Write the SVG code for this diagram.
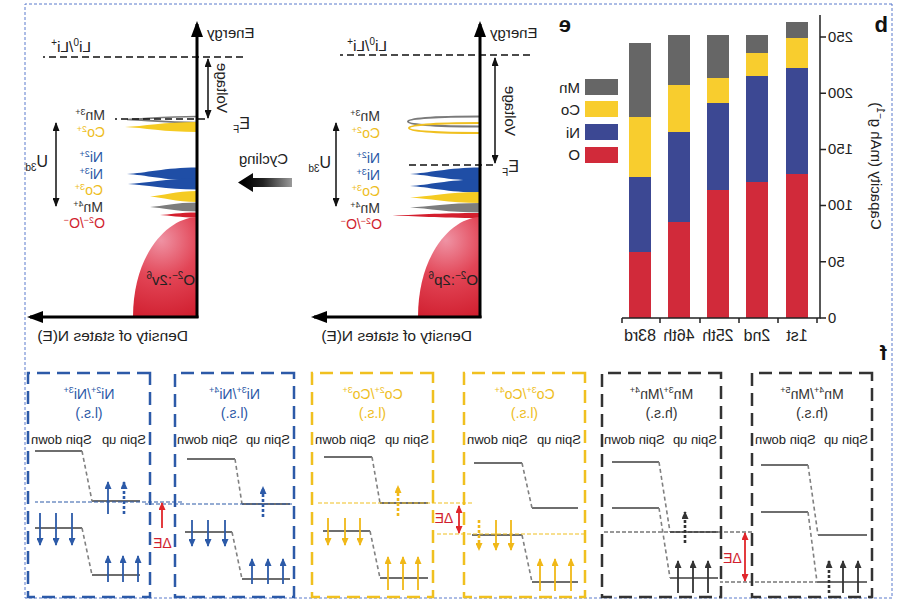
<svg xmlns="http://www.w3.org/2000/svg" width="909" height="610" viewBox="0 0 909 610">
<defs>
<style>
text{font-family:"Liberation Sans",Arial,Helvetica,sans-serif;fill:#222}
.f16{font-size:16px}.f15{font-size:15px}.f14{font-size:14px}.f13{font-size:13px}
.s10{font-size:10px}.s9{font-size:9px}
.bl{fill:#2b58a6}.yl{fill:#eebd1c}.rd{fill:#d11f2f}.dk{fill:#333}
.ax{stroke:#000;stroke-width:3;fill:none;marker-end:url(#axh)}
.dash{stroke:#111;stroke-width:1.6;stroke-dasharray:7 4;fill:none}
.dbl{stroke:#111;stroke-width:1.5;fill:none;marker-start:url(#sm);marker-end:url(#sm)}
.box{fill:none;stroke-width:2.5;stroke-dasharray:13 7}
.lvl{stroke:#6e6e6e;stroke-width:2;fill:none}
.sl{stroke:#808080;stroke-width:1.6;stroke-dasharray:4 3;fill:none}
.ef{stroke-width:1.2;stroke-dasharray:4 2;fill:none}
.ab{stroke:#2c5aa8;stroke-width:1.8;marker-end:url(#hb)}
.ay{stroke:#f0b818;stroke-width:1.8;marker-end:url(#hy)}
.ad{stroke:#333;stroke-width:1.8;marker-end:url(#hd)}
.dot{stroke-width:2.6;stroke-dasharray:3 2}
.de{stroke:#e0262b;stroke-width:1.8;fill:none}
.tick{stroke:#222;stroke-width:1.5}
</style>
<marker id="axh" markerUnits="userSpaceOnUse" markerWidth="16" markerHeight="12" refX="13" refY="6" orient="auto"><path d="M0,0 L16,6 L0,12 Z" fill="#000"/></marker>
<marker id="sm" markerUnits="userSpaceOnUse" markerWidth="9" markerHeight="7" refX="8" refY="3.5" orient="auto-start-reverse"><path d="M0,0 L9,3.5 L0,7 Z" fill="#111"/></marker>
<marker id="hb" markerUnits="userSpaceOnUse" markerWidth="8" markerHeight="7" refX="7" refY="3.5" orient="auto"><path d="M0,0 L8,3.5 L0,7 Z" fill="#2c5aa8"/></marker>
<marker id="hy" markerUnits="userSpaceOnUse" markerWidth="8" markerHeight="7" refX="7" refY="3.5" orient="auto"><path d="M0,0 L8,3.5 L0,7 Z" fill="#f0b818"/></marker>
<marker id="hd" markerUnits="userSpaceOnUse" markerWidth="8" markerHeight="7" refX="7" refY="3.5" orient="auto"><path d="M0,0 L8,3.5 L0,7 Z" fill="#333"/></marker>
<marker id="hr" markerUnits="userSpaceOnUse" markerWidth="8" markerHeight="7" refX="7" refY="3.5" orient="auto-start-reverse"><path d="M0,0 L8,3.5 L0,7 Z" fill="#e0262b"/></marker>
<radialGradient id="domeL" gradientUnits="userSpaceOnUse" cx="748" cy="240" r="85"><stop offset="0" stop-color="#ef93a4"/><stop offset="0.45" stop-color="#e24556"/><stop offset="1" stop-color="#cf1c2c"/></radialGradient>
<radialGradient id="domeM" gradientUnits="userSpaceOnUse" cx="463" cy="240" r="85"><stop offset="0" stop-color="#ef93a4"/><stop offset="0.45" stop-color="#e24556"/><stop offset="1" stop-color="#cf1c2c"/></radialGradient>
<linearGradient id="cyc" gradientUnits="userSpaceOnUse" x1="617" y1="0" x2="665" y2="0"><stop offset="0" stop-color="#9a9a9a"/><stop offset="0.6" stop-color="#222"/><stop offset="1" stop-color="#000"/></linearGradient>
</defs>
<rect width="909" height="610" fill="#fff"/>
<g transform="matrix(-1 0 0 1 909 0)">
<rect x="17" y="4" width="867" height="594" fill="none" stroke="#5a7bcc" stroke-width="1" stroke-dasharray="3 2"/>

<g id="panel-b">
<text x="21" y="32" style="font-size:22px;font-weight:bold;fill:#111">b</text>
<rect x="101" y="22" width="22" height="16" fill="#666"/><rect x="101" y="38" width="22" height="30" fill="#f8cd2e"/><rect x="101" y="68" width="22" height="106" fill="#3c4893"/><rect x="101" y="174" width="22" height="144" fill="#d12a3a"/>
<rect x="141" y="35" width="22" height="18" fill="#666"/><rect x="141" y="53" width="22" height="23" fill="#f8cd2e"/><rect x="141" y="76" width="22" height="106" fill="#3c4893"/><rect x="141" y="182" width="22" height="136" fill="#d12a3a"/>
<rect x="180" y="35" width="22" height="43" fill="#666"/><rect x="180" y="78" width="22" height="25" fill="#f8cd2e"/><rect x="180" y="103" width="22" height="87" fill="#3c4893"/><rect x="180" y="190" width="22" height="128" fill="#d12a3a"/>
<rect x="219" y="35" width="22" height="50" fill="#666"/><rect x="219" y="85" width="22" height="47" fill="#f8cd2e"/><rect x="219" y="132" width="22" height="90" fill="#3c4893"/><rect x="219" y="222" width="22" height="96" fill="#d12a3a"/>
<rect x="258" y="43" width="22" height="74" fill="#666"/><rect x="258" y="117" width="22" height="60" fill="#f8cd2e"/><rect x="258" y="177" width="22" height="75" fill="#3c4893"/><rect x="258" y="252" width="22" height="66" fill="#d12a3a"/>
<path d="M89,15 L89,318 L287,318" fill="none" stroke="#222" stroke-width="1.5"/>
<path class="tick" d="M83,37 H89 M83,93.2 H89 M83,149.4 H89 M83,205.6 H89 M83,261.8 H89 M83,318 H89 M92,318 V323 M131,318 V323 M170,318 V323 M209,318 V323 M249,318 V323 M287,318 V323"/>
<g class="f15" text-anchor="end"><text x="81" y="42">250</text><text x="81" y="98">200</text><text x="81" y="154">150</text><text x="81" y="210">100</text><text x="81" y="267">50</text><text x="81" y="323">0</text></g>
<g class="f16" text-anchor="middle"><text x="112" y="341">1st</text><text x="152" y="341">2nd</text><text x="191" y="341">25th</text><text x="230" y="341">46th</text><text x="269" y="341">83rd</text></g>
<text class="f15" transform="translate(38,166) rotate(-90)" text-anchor="middle">Capacity (mAh g<tspan class="s10" dy="-6">−1</tspan><tspan dy="6">)</tspan></text>
<rect x="291" y="79" width="33" height="16" fill="#666"/><rect x="291" y="101" width="33" height="16" fill="#f8cd2e"/><rect x="291" y="124" width="33" height="16" fill="#3c4893"/><rect x="291" y="147" width="33" height="16" fill="#d12a3a"/>
<g class="f15"><text x="329" y="93">Mn</text><text x="329" y="115">Co</text><text x="329" y="138">Ni</text><text x="329" y="160">O</text></g>
</g>

<g id="panel-e-middle">
<text x="338" y="32" style="font-size:22px;font-weight:bold;fill:#111">e</text>
<path d="M429,116.5 C470,116.5 501,118 501,121.5 C501,125 470,126.5 429,126.5" fill="none" stroke="#7a7a7a" stroke-width="2"/>
<path d="M429,123 C470,123 500,124.5 500,128 C500,131.5 470,133 429,133" fill="none" stroke="#f0c020" stroke-width="2"/>
<path d="M429,167.5 C460.5,167.5 481.5,173.2 499,174 C481.5,174.8 460.5,180.5 429,180.5Z" fill="#1f4ea6"/>
<path d="M429,179.5 C460.5,179.5 481.5,185.2 499,186 C481.5,186.8 460.5,192.5 429,192.5Z" fill="#1f4ea6"/>
<path d="M429,192 C460.5,192 481.5,196.7 499,197.5 C481.5,198.3 460.5,203 429,203Z" fill="#f5cb22"/>
<path d="M429,203 C460.5,203 481.5,206.7 499,207.5 C481.5,208.3 460.5,212.5 429,212.5Z" fill="#7d7d7d"/>
<path d="M429,213 C471,213 492,215 522,215.5 C492,216 471,218 429,218Z" fill="#d41f2e"/>
<path d="M429,217 C458,218 491,255 491,317 L429,317Z" fill="url(#domeM)"/>
<line class="dash" x1="379" y1="55" x2="569" y2="55"/>
<line class="dash" x1="416" y1="165" x2="504" y2="165"/>
<line class="ax" x1="429" y1="318" x2="429" y2="24"/>
<line class="ax" x1="427.5" y1="317" x2="595" y2="317"/>
<line class="dbl" x1="414" y1="58" x2="414" y2="163"/>
<line class="dbl" x1="573" y1="123" x2="573" y2="206"/>
<text class="f15" x="419" y="38" text-anchor="end">Energy</text>
<text style="font-size:15.5px" x="522" y="51">Li<tspan class="s10" dy="-6">0</tspan><tspan dy="6">/Li</tspan><tspan class="s10" dy="-6">+</tspan></text>
<text class="f15" transform="translate(404,111) rotate(-90)" text-anchor="middle">Voltage</text>
<text style="font-size:16px" x="390" y="172">E<tspan class="s10" dy="4">F</tspan></text>
<text style="font-size:16px" x="578" y="168">U<tspan class="s10" dy="4">3d</tspan></text>
<g class="f14">
<text class="dk" x="529" y="121">Mn<tspan class="s9" dy="-5">3+</tspan></text>
<text class="yl" x="529" y="138">Co<tspan class="s9" dy="-5">2+</tspan></text>
<text class="bl" x="529" y="163">Ni<tspan class="s9" dy="-5">2+</tspan></text>
<text class="bl" x="529" y="179.5">Ni<tspan class="s9" dy="-5">3+</tspan></text>
<text class="yl" x="529" y="196">Co<tspan class="s9" dy="-5">3+</tspan></text>
<text class="dk" x="529" y="212.5">Mn<tspan class="s9" dy="-5">4+</tspan></text>
<text class="rd" x="527" y="229">O<tspan class="s9" dy="-5">2−</tspan><tspan dy="5">/O</tspan><tspan class="s9" dy="-5">−</tspan></text>
</g>
<text class="f15" x="431" y="285">O<tspan class="s10" dy="-6">2−</tspan><tspan dy="6">:2p</tspan><tspan class="s10" dy="-6">6</tspan></text>
<text style="font-size:15.5px" x="437" y="341">Density of states N(E)</text>
</g>

<g id="panel-e-left">
<path d="M712,116.5 C743,116.5 764,119 782,119.5 C764,120 743,122.5 712,122.5" fill="none" stroke="#7a7a7a" stroke-width="1.6"/>
<path d="M712,122 C744,122 766,126.2 784,127 C766,127.8 744,132 712,132Z" fill="#f5cb22"/>
<path d="M712,167.5 C743.5,167.5 764.5,173.2 782,174 C764.5,174.8 743.5,180.5 712,180.5Z" fill="#1f4ea6"/>
<path d="M712,178.5 C743,178.5 763.8,183.2 781,184 C763.8,184.8 743,189.5 712,189.5Z" fill="#1f4ea6"/>
<path d="M712,191 C733,191 747,195.7 759,196.5 C747,197.3 733,202 712,202Z" fill="#f5cb22"/>
<path d="M712,202.5 C733,202.5 747,206.2 759,207 C747,207.8 733,211.5 712,211.5Z" fill="#7d7d7d"/>
<path d="M712,212.5 C729,212.5 740,214.5 749,215 C740,215.5 729,217.5 712,217.5Z" fill="#d41f2e"/>
<path d="M712,217 C742,218 776,255 776,317 L712,317Z" fill="url(#domeL)"/>
<line class="dash" x1="666" y1="57" x2="866" y2="57"/>
<line class="dash" x1="704" y1="119" x2="794" y2="119"/>
<line class="ax" x1="712" y1="318" x2="712" y2="24"/>
<line class="ax" x1="710.5" y1="317" x2="879" y2="317"/>
<line class="dbl" x1="701" y1="59" x2="701" y2="118"/>
<line class="dbl" x1="853" y1="123" x2="853" y2="206"/>
<text class="f15" x="702" y="38" text-anchor="end">Energy</text>
<text style="font-size:15.5px" x="818" y="52">Li<tspan class="s10" dy="-6">0</tspan><tspan dy="6">/Li</tspan><tspan class="s10" dy="-6">+</tspan></text>
<text class="f15" transform="translate(692,88) rotate(-90)" text-anchor="middle">Voltage</text>
<text style="font-size:16px" x="659" y="129">E<tspan class="s10" dy="4">F</tspan></text>
<text style="font-size:16px" x="861" y="167">U<tspan class="s10" dy="4">3d</tspan></text>
<text class="f15" x="621" y="164">Cycling</text>
<g class="f14">
<text class="dk" x="804" y="120">Mn<tspan class="s9" dy="-5">3+</tspan></text>
<text class="yl" x="804" y="137">Co<tspan class="s9" dy="-5">2+</tspan></text>
<text class="bl" x="806" y="162">Ni<tspan class="s9" dy="-5">2+</tspan></text>
<text class="bl" x="806" y="178.5">Ni<tspan class="s9" dy="-5">3+</tspan></text>
<text class="yl" x="806" y="195">Co<tspan class="s9" dy="-5">3+</tspan></text>
<text class="dk" x="806" y="211.5">Mn<tspan class="s9" dy="-5">4+</tspan></text>
<text class="rd" x="804" y="228">O<tspan class="s9" dy="-5">2−</tspan><tspan dy="5">/O</tspan><tspan class="s9" dy="-5">−</tspan></text>
</g>
<text class="f15" x="714" y="285">O<tspan class="s10" dy="-6">2−</tspan><tspan dy="6">:2v</tspan><tspan class="s10" dy="-6">6</tspan></text>
<text style="font-size:15.5px" x="721" y="341">Density of states N(E)</text>
</g>

<text x="22" y="360" style="font-size:21px;font-weight:bold;fill:#111">f</text>

<g id="box-ni23">
<rect class="box" x="759" y="373" width="122" height="224" stroke="#2c5aa8"/>
<text class="f14 bl" x="820" y="399" text-anchor="middle">Ni<tspan class="s9" dy="-6">2+</tspan><tspan dy="6">/Ni</tspan><tspan class="s9" dy="-6">3+</tspan></text>
<text class="f14 bl" x="820" y="418" text-anchor="middle">(l.s.)</text>
<text class="f13" x="763" y="444">Spin up</text><text class="f13" x="878" y="444" text-anchor="end">Spin down</text>
<path class="lvl" d="M827,451 H874 M769,501 H817 M827,528 H874 M769,575 H817"/>
<path class="sl" d="M827,451 L817,501 M827,528 L817,575"/>
<line class="ef" x1="727" y1="502" x2="874" y2="502" stroke="#2c5aa8"/>
<path class="ab" d="M869,513 V545"/><path class="ab" d="M853,513 V545"/><path class="ab" d="M837,513 V545"/>
<path class="ab" d="M801,582 V556"/><path class="ab" d="M786,582 V556"/><path class="ab" d="M771,582 V556"/>
<path class="ab" d="M801,514 V482"/><path class="ab dot" d="M785,514 V482"/>
</g>

<g id="box-ni34">
<rect class="box" x="615" y="373" width="119" height="224" stroke="#2c5aa8"/>
<text class="f14 bl" x="674.5" y="399" text-anchor="middle">Ni<tspan class="s9" dy="-6">3+</tspan><tspan dy="6">/Ni</tspan><tspan class="s9" dy="-6">4+</tspan></text>
<text class="f14 bl" x="674.5" y="418" text-anchor="middle">(l.s.)</text>
<text class="f13" x="619" y="444">Spin up</text><text class="f13" x="732" y="444" text-anchor="end">Spin down</text>
<path class="lvl" d="M674,459 H722 M619,504 H667 M677,532 H724 M619,579 H667"/>
<path class="sl" d="M674,459 L667,504 M677,532 L667,579"/>
<line class="ef" x1="617" y1="504" x2="764" y2="504" stroke="#2c5aa8"/>
<path class="ab dot" d="M646,517 V487"/>
<path class="ab" d="M717,520 V546"/><path class="ab" d="M701,520 V546"/><path class="ab" d="M684,520 V546"/>
<path class="ab" d="M657,584 V559"/><path class="ab" d="M641,584 V559"/><path class="ab" d="M626,584 V559"/>
</g>

<g id="box-co23">
<rect class="box" x="476" y="373" width="121" height="224" stroke="#f0c020"/>
<text class="f14 yl" x="536.5" y="399" text-anchor="middle">Co<tspan class="s9" dy="-6">2+</tspan><tspan dy="6">/Co</tspan><tspan class="s9" dy="-6">3+</tspan></text>
<text class="f14 yl" x="536.5" y="418" text-anchor="middle">(l.s.)</text>
<text class="f13" x="480" y="444">Spin up</text><text class="f13" x="594" y="444" text-anchor="end">Spin down</text>
<path class="lvl" d="M537,457 H585 M481,503 H529 M539,531 H586 M481,578 H529"/>
<path class="sl" d="M537,457 L529,503 M539,531 L529,578"/>
<line class="ef" x1="437" y1="503" x2="591" y2="503" stroke="#f0c020"/>
<path class="ay dot" d="M511,516 V486"/>
<path class="ay" d="M581,518 V545"/><path class="ay" d="M564,518 V545"/><path class="ay" d="M549,518 V545"/>
<path class="ay" d="M521,590 V557"/><path class="ay" d="M506,590 V557"/><path class="ay" d="M491,590 V557"/>
</g>

<g id="box-co34">
<rect class="box" x="324" y="373" width="121" height="224" stroke="#f0c020"/>
<text class="f14 yl" x="384.5" y="399" text-anchor="middle">Co<tspan class="s9" dy="-6">3+</tspan><tspan dy="6">/Co</tspan><tspan class="s9" dy="-6">4+</tspan></text>
<text class="f14 yl" x="384.5" y="418" text-anchor="middle">(l.s.)</text>
<text class="f13" x="328" y="444">Spin up</text><text class="f13" x="442" y="444" text-anchor="end">Spin down</text>
<path class="lvl" d="M387,463 H435 M331,508 H377 M387,535 H437 M331,582 H377"/>
<path class="sl" d="M387,463 L377,508 M387,535 L377,582"/>
<line class="ef" x1="324" y1="534" x2="474" y2="534" stroke="#f0c020"/>
<path class="ay dot" d="M430,520 V550"/><path class="ay" d="M413,520 V550"/><path class="ay" d="M398,520 V550"/>
<path class="ay" d="M369,591 V559"/><path class="ay" d="M354,591 V559"/><path class="ay" d="M338,591 V559"/>
</g>

<g id="box-mn34">
<rect class="box" x="188" y="373" width="119" height="224" stroke="#333"/>
<text class="f14 dk" x="247.5" y="399" text-anchor="middle">Mn<tspan class="s9" dy="-6">3+</tspan><tspan dy="6">/Mn</tspan><tspan class="s9" dy="-6">4+</tspan></text>
<text class="f14 dk" x="247.5" y="418" text-anchor="middle">(h.s.)</text>
<text class="f13" x="192" y="444">Spin up</text><text class="f13" x="305" y="444" text-anchor="end">Spin down</text>
<path class="lvl" d="M250,462 H297 M191,532 H239 M250,508 H297 M191,578 H239"/>
<path class="sl" d="M250,462 L239,532 M250,508 L239,578"/>
<line class="ef" x1="157" y1="532" x2="307" y2="532" stroke="#333"/>
<line class="ef" x1="42" y1="582" x2="189" y2="582" stroke="#333"/>
<path class="ad dot" d="M224,543 V512"/>
<path class="ad" d="M231,593 V561"/><path class="ad" d="M216,593 V561"/><path class="ad" d="M201,593 V561"/>
</g>

<g id="box-mn45">
<rect class="box" x="37" y="373" width="120" height="224" stroke="#333"/>
<text class="f14 dk" x="97" y="399" text-anchor="middle">Mn<tspan class="s9" dy="-6">4+</tspan><tspan dy="6">/Mn</tspan><tspan class="s9" dy="-6">5+</tspan></text>
<text class="f14 dk" x="97" y="418" text-anchor="middle">(h.s.)</text>
<text class="f13" x="41" y="444">Spin up</text><text class="f13" x="154" y="444" text-anchor="end">Spin down</text>
<path class="lvl" d="M101,465 H148 M42,535 H91 M101,512 H148 M42,582 H92"/>
<path class="sl" d="M101,465 L91,535 M101,512 L92,582"/>
<path class="ad dot" d="M80,593 V561"/><path class="ad" d="M66,593 V561"/><path class="ad" d="M51,593 V561"/>
</g>

<g id="connectors">
<polygon points="617,178 656,178 656,173 671,182.5 656,192 656,187 617,187" fill="url(#cyc)"/>
<line class="de" x1="747" y1="528" x2="747" y2="503" marker-end="url(#hr)"/>
<text class="f14 rd" x="746.5" y="548" text-anchor="middle">ΔE</text>
<line class="de" x1="450" y1="506" x2="450" y2="533" marker-start="url(#hr)" marker-end="url(#hr)"/>
<text class="f14 rd" x="465" y="523" text-anchor="middle">ΔE</text>
<line class="de" x1="164" y1="533" x2="164" y2="581" marker-start="url(#hr)" marker-end="url(#hr)"/>
<text class="f14 rd" x="176.5" y="563" text-anchor="middle">ΔE</text>
</g>
</g>
</svg>
